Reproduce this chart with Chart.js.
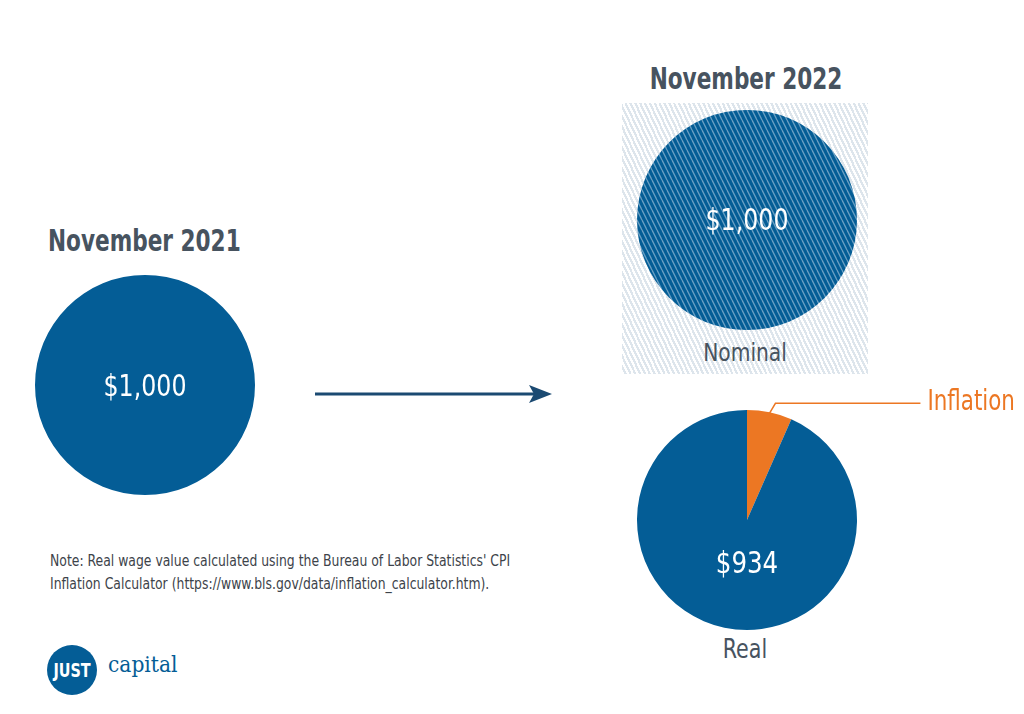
<!DOCTYPE html>
<html>
<head>
<meta charset="utf-8">
<script src="https://cdn.jsdelivr.net/npm/chart.js@4.4.1/dist/chart.umd.min.js"></script>
<style>
  body { margin: 0; background: #fff; width: 1024px; height: 714px; overflow: hidden; position: relative;
         font-family: "DejaVu Sans Condensed", "DejaVu Sans", sans-serif; }
  .abs { position: absolute; }
  .title { font-weight: bold; font-size: 31px; color: #47535f; white-space: nowrap; }
  #hatch { left: 622px; top: 103px; width: 246px; height: 271px;
           background: repeating-linear-gradient(65deg, #ffffff 0px, #ffffff 2.2px, #dde5ec 2.2px, #dde5ec 4.4px); }
  .lbl { font-size: 25px; color: #47535f; text-align: center; width: 246px; }
  #note { left: 50px; top: 550px; font-size: 15px; line-height: 23px; color: #3d434a; white-space: nowrap;
          transform: scaleX(0.92); transform-origin: left top; }
  #logo { left: 47px; top: 645px; width: 50px; height: 50px; border-radius: 50%; background: #045d96; }
  #logo span { display: block; color: #fff; font-weight: bold; font-size: 20px; line-height: 50px; text-align: center;
               transform: scaleX(0.8); }
  #cap { left: 108px; top: 651px; font-family: "DejaVu Serif", "Liberation Serif", serif; font-size: 23px; color: #045d96;
         transform: scaleX(0.88); transform-origin: left top; }
</style>
</head>
<body>
<div class="abs title" style="left:48px; top:222px; transform:scaleX(0.775); transform-origin:left top;">November 2021</div>
<div class="abs title" style="left:622px; top:60px; width:246px; text-align:center; transform:scaleX(0.775);">November 2022</div>
<div class="abs" id="hatch"></div>
<div class="abs lbl" style="left:622px; top:338px; transform:scaleX(0.9);">Nominal</div>
<div class="abs lbl" style="left:622px; top:633px; font-size:27px; transform:scaleX(0.85);">Real</div>

<canvas class="abs" id="c2021" width="240" height="240" style="left:25px; top:265px;"></canvas>
<canvas class="abs" id="cNominal" width="240" height="240" style="left:627px; top:100px;"></canvas>
<canvas class="abs" id="cReal" width="400" height="280" style="left:627px; top:380px;"></canvas>

<svg class="abs" style="left:300px; top:380px;" width="260" height="30">
  <line x1="15" y1="14" x2="240" y2="14" stroke="#1b4a72" stroke-width="3"/>
  <polygon points="229,5 252,14 229,23 234,14" fill="#1b4a72"/>
</svg>

<div class="abs" id="note">Note: Real wage value calculated using the Bureau of Labor Statistics' CPI<br>Inflation Calculator (https://www.bls.gov/data/inflation_calculator.htm).</div>
<div class="abs" id="logo"><span>JUST</span></div>
<div class="abs" id="cap">capital</div>

<script>
// values in dollars
var wage2021 = [1000];
var nominal2022 = [1000];
var realLabels = ['Inflation', 'Real'];
var real2022 = [66, 934];

var BLUE = '#045d96';
var ORANGE = '#ec7723';
var FONT = '"DejaVu Sans Condensed", "DejaVu Sans", sans-serif';

// stripes for the nominal circle
function stripes() {
  var p = document.createElement('canvas');
  p.width = 5; p.height = 10;
  var g = p.getContext('2d');
  g.fillStyle = BLUE;
  g.fillRect(0, 0, 5, 10);
  g.strokeStyle = 'rgba(140,180,210,0.75)';
  g.lineWidth = 1.3;
  for (var k = -2; k <= 2; k++) {
    g.beginPath();
    g.moveTo(k * 5, 0);
    g.lineTo(k * 5 + 5, 10);
    g.stroke();
  }
  return g.createPattern(p, 'repeat');
}

// narrow text, the original uses a condensed face
function narrowText(ctx, text, x, y, sx) {
  ctx.save();
  ctx.translate(x, y);
  ctx.scale(sx, 1);
  ctx.fillText(text, 0, 0);
  ctx.restore();
}

// writes the dollar value in the middle of the pie
var centerText = {
  id: 'centerText',
  afterDatasetsDraw: function(chart, args, opts) {
    var arc = chart.getDatasetMeta(0).data[0];
    var ctx = chart.ctx;
    ctx.save();
    ctx.fillStyle = '#fff';
    ctx.font = '31px ' + FONT;
    ctx.textAlign = 'center';
    ctx.textBaseline = 'middle';
    narrowText(ctx, opts.text, arc.x, arc.y + (opts.dy || 0), opts.sx || 0.85);
    ctx.restore();
  }
};

// leader line and label for the inflation slice
var inflationLabel = {
  id: 'inflationLabel',
  afterDatasetsDraw: function(chart) {
    var arc = chart.getDatasetMeta(0).data[0];
    var mid = (arc.startAngle + arc.endAngle) / 2;
    var r = arc.outerRadius - 1;
    var x0 = arc.x + Math.cos(mid) * r;
    var y0 = arc.y + Math.sin(mid) * r;
    var ctx = chart.ctx;
    ctx.save();
    ctx.strokeStyle = ORANGE;
    ctx.lineWidth = 1.5;
    ctx.beginPath();
    ctx.moveTo(x0, y0);
    ctx.lineTo(x0 + 6, y0 - 10);
    ctx.lineTo(x0 + 151, y0 - 10);
    ctx.stroke();
    ctx.fillStyle = ORANGE;
    ctx.font = '28px ' + FONT;
    ctx.textBaseline = 'middle';
    narrowText(ctx, chart.data.labels[0], x0 + 158, y0 - 11, 0.85);
    ctx.restore();
  }
};

function pie(id, labels, values, colors, padding, plugins, pluginOpts) {
  return new Chart(document.getElementById(id), {
    type: 'pie',
    data: { labels: labels, datasets: [{ data: values, backgroundColor: colors, borderWidth: 0 }] },
    options: {
      responsive: false,
      animation: false,
      layout: { padding: padding },
      plugins: Object.assign({ legend: { display: false }, tooltip: { enabled: false } }, pluginOpts)
    },
    plugins: plugins
  });
}

pie('c2021', ['November 2021'], wage2021, [BLUE], 10, [centerText],
    { centerText: { text: '$1,000', dy: 3 } });
pie('cNominal', ['Nominal'], nominal2022, [stripes()], 10, [centerText],
    { centerText: { text: '$1,000', dy: 2 } });
pie('cReal', realLabels, real2022, [ORANGE, BLUE], { left: 10, right: 170, top: 30, bottom: 30 },
    [centerText, inflationLabel], { centerText: { text: '$934', dy: 45, sx: 0.88 } });
</script>
</body>
</html>
